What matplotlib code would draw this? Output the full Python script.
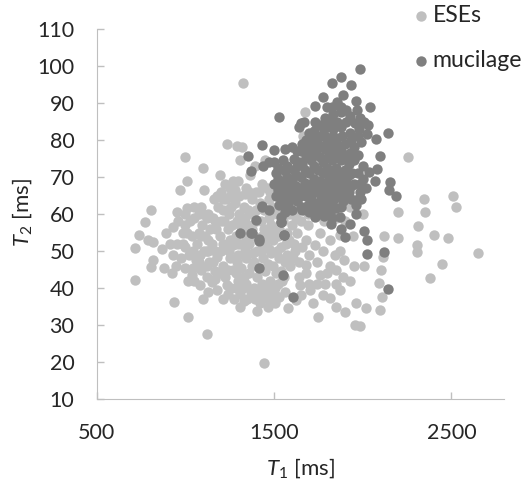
import numpy as np
import matplotlib
matplotlib.use("Agg")
import matplotlib.pyplot as plt

plt.rcParams['font.family'] = ['Lato', 'DejaVu Sans']
plt.rcParams['mathtext.fontset'] = 'custom'
plt.rcParams['mathtext.rm'] = 'Lato'
plt.rcParams['mathtext.it'] = 'Lato:italic'

# values: (T1, T2)
ese_outer = [(717,42.2),(717,50.8),(740,54.3),(774,57.8),(808,61),(790,53),(818,52.4),(818,47.6),(808,45.7),
    (880,45.4),(925,44),(869,50.5),(914,52),(953,60.5),(1010,61.6),(1088,62),(1128,60),(891,54.9),(931,56.5),
    (987,52),(1010,55),(1043,45.4),(1015,42),(1083,40.8),(1128,39),(1100,37),(1213,37),(1308,35),(1404,33.8),
    (1466,35),(1505,36),(1308,38.4),(1168,42.4),(1235,40.8),(937,36.2),(1015,32.2),(1122,27.6),(1442,19.7),
    (1325,95.4),(2648,49.5),(2507,65),(2525,62),(2345,64),(2350,60.5),(2310,56.8),(2400,54.3),(2480,53.5),
    (2305,51.6),(2305,49.7),(2445,46.5),(2378,42.7),(2255,75.4),(2198,60.5),(2120,54),(2198,53.5),(2000,60),
    (1945,54),(2115,48.4),(2103,44.9),(2090,41.4),(2107,37.6),(2097,34),(1985,29.7),(1957,30),(2018,34.6),
    (1872,39.5),(1928,42),(1889,43),(1895,47.6),(1843,49),(1748,32.2),(1815,37.3),(1703,39.5),(1624,36.8),
    (1647,40.8),(1759,43.5),(1680,46.2),(1815,46),(1731,51.6),(1815,53),(1872,54.3),(1759,55),(1680,53),
    (1900,58),(998,75.4),(1100,72.4),(1106,66.5),(970,66.5),(1010,69),(1235,79),(1292,78.4),(1320,78),
    (1195,70.5),(1225,68),(1308,74.6),(1392,73),(1449,74.6),(1365,70.5),(1432,68),(1280,66.5),(1335,65.5),
    (1675,87.6),(1663,81),(1652,66),(1700,41),(1775,38),(1850,35),(1900,33.5),(1580,34.5),(1560,39),(1745,47),
    (1790,41),(1960,36),(2010,46),(1780,58),(1850,59),(1930,62)]

ese_core = [(960,58),(1000,57),(1050,59),(1095,57),(1140,56),(1185,62),(1230,64),(1280,63),(1330,62),(1375,64),
    (1420,63),(1470,64),(930,49),(975,48),(1020,49),(1065,52),(1110,54),(1155,59),(1200,58),(1245,60),
    (1290,58),(1335,59),(1380,60),(1425,58),(1470,59),(1515,60),(1560,62),(950,46),(1000,45.5),(1060,47.5),
    (1105,50),(1150,52),(1195,54),(1240,56),(1285,54),(1330,55.5),(1375,56),(1460,55),(1505,56),(1550,58),
    (1600,57),(1090,45),(1135,47),(1180,48.5),(1225,51),(1270,51.5),(1315,52),(1360,52),(1405,50),(1450,52),
    (1495,53),(1540,51),(1585,53),(1630,55),(1050,42),(1120,43),(1165,44.5),(1210,46),(1255,48),(1300,49),
    (1345,48),(1390,47),(1440,48),(1485,49.5),(1530,48),(1575,49),(1620,50),(1180,39.5),(1225,43),(1270,45),
    (1315,45.5),(1360,44),(1405,43),(1450,44.5),(1495,46),(1540,44.5),(1590,46),(1260,40),(1300,42),(1345,41),
    (1390,40),(1435,41),(1480,42),(1525,41),(1350,37),(1395,37),(1440,38),(1485,38.5),(1275,37),(1530,37.5),
    (1120,50),(1075,55),(1235,61),(1160,64),(1200,66),(1250,67),(1300,69),(1345,67),(1400,66),(1460,67),
    (1515,65),(1560,66),(1610,60),(1650,58),(1690,57),(1640,47),(1660,51)]

ese_fill = [(1025,58),(1075,60),(1120,59),(1165,58),(1210,61),(1260,62),(1305,60),(1355,61),(1400,61),(1445,61),
    (1490,62),(1535,62),(1585,60),(985,55),(1040,54),(1090,54),(1130,53),(1175,56),(1220,58),(1265,57),(1310,57),
    (1355,57),(1400,58),(1445,56),(1485,57),(1530,56),(1575,55),(1625,59),(955,52),(1000,51),(1045,50),(1085,49),
    (1130,50),(1170,50),(1210,52),(1250,53),(1295,52),(1340,53),(1385,54),(1430,54),(1475,54),(1520,54),(1565,52),
    (1610,52),(1040,43.5),(1080,47),(1120,46),(1155,47),(1200,50),(1245,50),(1290,47),(1335,50),(1380,49.5),(1425,50),
    (1470,50.5),(1515,50),(1560,47),(1605,48),(1150,41.5),(1195,44),(1240,45),(1285,44),(1330,43),(1375,46),(1420,45.5),
    (1465,46.5),(1510,44),(1555,43),(1240,38.5),(1285,40),(1325,40),(1370,39),(1415,39),(1460,40),(1505,40),(1545,42),
    (1330,36.5),(1420,36),(1465,37),(1505,38),(1000,60),(1050,62),(1100,60),(1210,64),(1255,65),(1305,65),(1360,66),
    (1415,66),(1480,66),(1545,64),(1590,63),(1180,65),(1270,69),(1700,49),(1775,50),(1850,45),(1800,44),(1720,36),
    (1650,38),(1680,44),(1640,43),(1870,50),(1740,41),(1850,41),(1950,46),(1660,62),(1690,60)]

mucilage_outer = [(1986,99.2),(1875,97.1),(1829,95.5),(1934,94.9),(1778,91.7),(1731,89.3),(1889,92.1),(1960,90.5),
    (2039,88.9),(1853,90.3),(1530,86.1),(2142,82),(2076,80.3),(2095,75.7),(2078,72.1),(2037,71.4),(2069,69),
    (2155,68.7),(2148,66.4),(2187,64.8),(1432,78.6),(1355,75.7),(1368,71.7),(1562,77.7),(1502,77.3),(1474,74.1),
    (1440,73),(1652,84.5),(1669,84.9),(1643,83.6),(1731,84.9),(1810,85.2),(1434,62.2),(1474,61),(1398,58.4),
    (1539,59.3),(1537,57.9),(1308,54.9),(1374,54.9),(1556,54.3),(1417,53.2),(1731,59.3),(1819,57.2),(1876,56),
    (1928,57.2),(2007,55.5),(1962,62.4),(1872,59.3),(1815,60.3),(1370,54.9),(1432,61.9),(1416,52.7),(1416,45.4),
    (1552,43.5),(1557,54.3),(1540,57.8),(1607,37.6),(2024,49.2),(2120,49.7),(2142,39.7),(1900,53.8),(2024,53)]

mucilage_core = [(1500,74),(1550,74.5),(1610,75),(1650,77),(1700,78),(1750,79),(1800,80),(1850,80),(1900,79),
    (1950,78),(1780,83),(1830,83),(1880,83.5),(1930,82),(1980,83),(2030,84),(1830,87),(1880,87.5),(1930,86.5),
    (1985,86),(2025,81.5),(1990,79.5),(1760,81),(1510,71),(1560,71.5),(1610,72),(1660,73.5),(1710,74.5),(1760,75.5),
    (1810,76),(1860,76),(1910,75),(1950,74.5),(1975,76),(1500,68),(1550,68.5),(1600,69),(1650,70),(1700,71),
    (1750,72),(1800,72.5),(1850,72.5),(1900,72),(1940,71),(1510,65),(1560,65.5),(1610,66),(1660,67),(1710,68),
    (1760,69),(1810,69.5),(1860,69.5),(1905,69),(1950,68),(2000,69.5),(2020,67),(1530,62.5),(1580,63),(1630,63.5),
    (1680,65),(1730,66),(1780,66.5),(1830,66.5),(1880,66.5),(1925,66),(1985,66),(1560,60.5),(1600,61),(1690,62.5),
    (1740,63),(1790,63.5),(1840,64),(1890,63.5),(1935,64),(1990,64),(1700,60.5),(1750,60.5),(1800,61.5),(1850,61.5),
    (1780,78),(1830,78.5),(1880,78),(1720,76),(1640,74),(1600,78),(1680,80),(1740,84),(1790,86),(1800,89),(1855,85)]

mucilage_fill = [(1525,72.5),(1575,73),(1630,73),(1680,75.5),(1735,77),(1785,77.5),(1835,77.5),(1885,76.5),(1930,76.5),
    (1525,69.5),(1575,70),(1625,70.5),(1675,72),(1725,73),(1775,74),(1825,74.5),(1875,74.5),(1925,73.5),
    (1525,66.5),(1575,67),(1625,67.5),(1675,68.5),(1725,69.5),(1775,71),(1825,71),(1875,71),(1920,70.5),
    (1545,64),(1595,64.5),(1645,65),(1695,66.5),(1745,67.5),(1795,68),(1845,68),(1895,68),(1935,67.5),
    (1570,62),(1650,62),(1710,64),(1765,65),(1815,65),(1865,65),(1910,65),(1725,62),(1775,62),(1825,62.5),(1875,62),
    (1730,80),(1785,81),(1835,81),(1885,81),(1935,80),(1975,81),(1805,84),(1855,84),(1905,85),(1955,84.5),(2005,85),
    (1825,89),(1880,89),(1905,88),(1965,88),(1700,82),(1725,82.5),(1660,79),(1630,77),(1690,76),(1760,84),(2000,73),
    (1975,71),(1985,68),(1660,61),(1780,59.5),(1825,59),(1960,60),(1975,64)]

legend_labels = ["ESEs", "mucilage"]
x_ticks = [500, 1500, 2500]
y_ticks = [10, 20, 30, 40, 50, 60, 70, 80, 90, 100, 110]

ese = np.array(ese_outer + ese_core + ese_fill)
mucilage = np.array(mucilage_outer + mucilage_core + mucilage_fill)

fig = plt.figure(figsize=(5.22, 4.84), dpi=100)
ax = fig.add_axes([96.5/522, 85/484, 407.5/522, 370/484])

ax.scatter(ese[:,0], ese[:,1], s=56, color='#bfbfbf', linewidths=0, label=legend_labels[0], clip_on=False)
ax.scatter(mucilage[:,0], mucilage[:,1], s=56, color='#7f7f7f', linewidths=0, label=legend_labels[1], clip_on=False)

ax.set_xlim(500, 2796)
ax.set_ylim(10, 110)
ax.set_xticks(x_ticks)
ax.set_yticks(y_ticks)
ax.tick_params(direction='in', length=5, width=1, color='#bfbfbf', labelsize=15.5, labelcolor='#262626')
ax.tick_params(axis='x', pad=17)
ax.tick_params(axis='y', pad=16)

ax.spines['top'].set_visible(False)
ax.spines['right'].set_visible(False)
ax.spines['left'].set_color('#bfbfbf')
ax.spines['bottom'].set_color('#bfbfbf')

fig.text(300/522, 1-468/484, r"$\mathit{T}_1$ [ms]", ha='center', va='center', fontsize=16, color='#262626')
fig.text(22/522, 1-213/484, r"$\mathit{T}_2$ [ms]", ha='center', va='center', rotation=90, fontsize=16, color='#262626')

ax.legend(loc='upper left', bbox_to_anchor=(414/522, 1-5/484), bbox_transform=fig.transFigure, frameon=False,
          fontsize=16.6, labelspacing=1.05, handlelength=0.6, handletextpad=0.2, borderpad=0, borderaxespad=0,
          labelcolor='#262626')

plt.savefig("out.png", dpi=100)
